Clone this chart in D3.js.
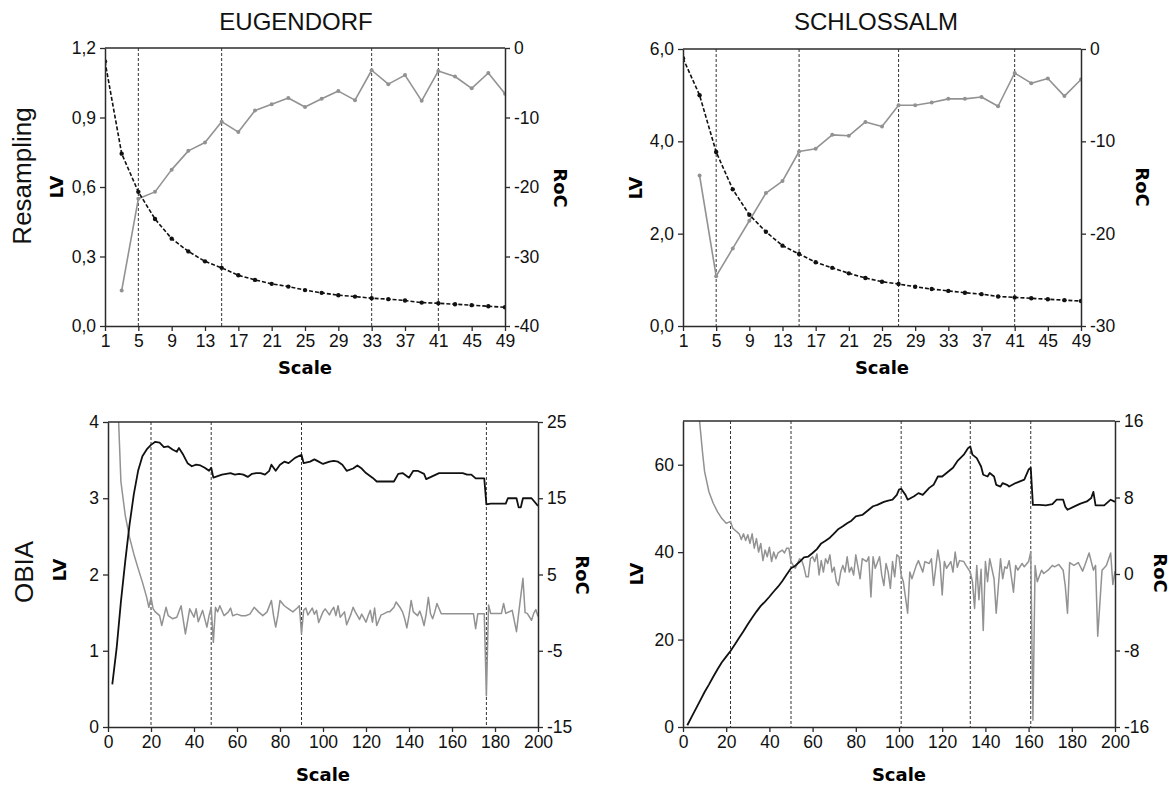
<!DOCTYPE html>
<html><head><meta charset="utf-8">
<script src="https://cdn.jsdelivr.net/npm/d3@7"></script>
<style>body{margin:0;background:#fff}svg{display:block}</style>
</head><body>
<svg id="c" width="1173" height="790"></svg>
<script>
// ---------- DATA ----------
const siteNames = ["EUGENDORF", "SCHLOSSALM"];
const rowNames = ["Resampling", "OBIA"];

const resampleScale = [1,3,5,7,9,11,13,15,17,19,21,23,25,27,29,31,33,35,37,39,41,43,45,47,49];
const resampleTicks = [1,5,9,13,17,21,25,29,33,37,41,45,49];

const eugResLV = [1.142,0.744,0.579,0.462,0.377,0.322,0.279,0.251,0.219,0.199,0.182,0.170,0.155,0.143,0.133,0.127,0.120,0.116,0.110,0.101,0.098,0.094,0.090,0.085,0.081];
const eugResRoC = [null,-34.9,-21.7,-20.7,-17.5,-14.8,-13.6,-10.6,-12.1,-9.0,-8.1,-7.2,-8.5,-7.3,-6.2,-7.5,-3.2,-5.2,-3.9,-7.6,-3.3,-4.1,-5.8,-3.6,-6.6];
const eugResBreaks = [5,15,33,41];
const eugResLVTicks = [0,0.3,0.6,0.9,1.2];
const eugResRoCTicks = [-40,-30,-20,-10,0];

const schResLV = [5.80,5.00,3.77,2.96,2.41,2.04,1.74,1.56,1.38,1.26,1.14,1.04,0.96,0.91,0.85,0.80,0.76,0.72,0.69,0.64,0.62,0.60,0.58,0.56,0.54];
const schResRoC = [null,-13.7,-24.6,-21.6,-18.6,-15.6,-14.3,-11.1,-10.8,-9.3,-9.4,-7.9,-8.4,-6.1,-6.1,-5.8,-5.4,-5.4,-5.2,-6.2,-2.6,-3.7,-3.2,-5.1,-3.3];
const schResBreaks = [5,15,27,41];
const schResLVTicks = [0,2,4,6];
const schResRoCTicks = [-30,-20,-10,0];

const obiaTicks = [0,20,40,60,80,100,120,140,160,180,200];

// [scale, LV]
const eugObiaLV = [[2,0.56],[4,1.03],[6,1.64],[8,2.17],[10,2.65],[12,3.05],[14,3.36],[16,3.55],[18,3.64],[20,3.70],
[22,3.74],[24,3.73],[26,3.67],[28,3.68],[30,3.64],[32,3.61],[33,3.66],[35,3.57],[37,3.46],[39,3.42],
[41,3.44],[43,3.43],[45,3.40],[47,3.36],[48,3.40],[49,3.27],[51,3.29],[53,3.31],[55,3.32],[57,3.33],
[59,3.31],[61,3.32],[63,3.31],[65,3.28],[67,3.32],[69,3.33],[71,3.33],[73,3.31],[75,3.36],[76,3.44],
[78,3.36],[80,3.44],[82,3.48],[84,3.46],[87,3.53],[90,3.57],[91,3.46],[94,3.48],[96,3.51],[98,3.48],
[100,3.45],[103,3.48],[105,3.49],[107,3.48],[109,3.44],[111,3.36],[114,3.39],[116,3.43],[118,3.39],[120,3.33],
[123,3.27],[125,3.22],[133,3.22],[135,3.32],[137,3.33],[140,3.27],[142,3.36],[144,3.36],[147,3.32],[148,3.25],
[151,3.29],[154,3.33],[165,3.33],[167,3.31],[169,3.31],[171,3.26],[175,3.26],[176,2.92],[178,2.93],[185,2.93],
[186,3.0],[190,3.0],[191,2.88],[192,2.88],[193,3.0],[197,3.0],[200,2.9]];
// [scale, RoC]
const eugObiaRoC = [[2,45],[4,32],[6,17.2],[8,12.8],[10,9.9],[12,7.7],[14,5.8],[16,4.0],[18,2.0],[19,0.7],[20,2.0],
[21,0.5],[22,0.1],[24,-0.4],[25,-1.7],[27,0.7],[28,-0.4],[30,-0.8],[32,-0.6],[34,0.9],[36,-2.8],[38,0.5],
[40,-0.6],[41,0.5],[42,-1.2],[44,0.3],[46,-1.9],[47,-0.4],[48,0.7],[49,-3.9],[50,0.7],[51,0.1],[52,0.9],
[54,-0.4],[56,0.1],[57,0.6],[58,-0.4],[60,-0.2],[62,-0.4],[64,-0.4],[66,-0.2],[68,0.7],[70,0.1],[72,-0.4],
[74,0.1],[76,1.6],[77,-0.4],[78,-1.9],[79,-0.4],[80,1.6],[82,0.9],[84,0.5],[86,0.1],[88,0.6],[89,0.9],
[90,-2.8],[91,0.3],[92,0.6],[93,-0.3],[95,0.6],[96,-0.2],[97,0.3],[98,-1.3],[100,0.1],[101,0.5],[103,-0.3],
[104,0.3],[105,0.7],[106,-0.4],[107,0.9],[108,-0.6],[110,0.1],[111,-1.6],[113,-0.2],[114,0.7],[115,0.1],
[117,-0.9],[118,-0.2],[120,-1.25],[121,-0.4],[122,0.3],[123,-1.25],[124,0.6],[125,-1.7],[127,-0.3],[128,-0.2],
[130,0.1],[131,0.1],[133,0.7],[134,1.4],[136,0.6],[137,0.1],[138,-0.8],[139,-2.0],[140,-0.4],[141,1.6],
[142,0.1],[144,-0.4],[145,0.2],[146,-0.6],[147,-1.7],[148,-0.15],[149,2.0],[150,-0.15],[151,-0.8],[152,0.1],
[153,1.2],[155,-0.15],[170,-0.15],[171,-2.1],[172,-0.15],[175,-0.15],[176,-10.9],[177,1.0],[178,-0.1],
[183,-0.1],[184,1.2],[185,-0.1],[188,0.3],[190,-2.5],[191,-0.1],[193,4.5],[194,0.0],[195,-0.1],[197,-1.0],
[198,-0.1],[199,0.4],[200,-0.5]];
const eugObiaBreaks = [20,48,90,176];
const eugObiaLVTicks = [0,1,2,3,4];
const eugObiaRoCTicks = [-15,-5,5,15,25];

const schObiaLV = [[2,0.4],[4,2.3],[6,4.2],[8,6.1],[10,8.0],[12,9.7],[14,11.5],[16,13.2],[18,14.8],[20,16.1],
[22,17.4],[24,18.9],[26,20.4],[28,21.9],[30,23.5],[32,25.0],[34,26.4],[36,27.7],[38,28.7],[40,29.8],
[42,31.0],[44,32.1],[46,33.4],[48,34.9],[50,36.3],[52,36.9],[54,37.8],[56,38.8],[58,39.0],[60,39.8],
[62,40.7],[64,42.0],[66,42.6],[68,43.3],[70,44.3],[72,45.3],[74,45.9],[76,46.6],[78,47.2],[80,48.2],
[83,48.5],[86,49.7],[88,50.5],[90,50.8],[93,51.5],[95,51.8],[97,52.0],[99,53.1],[100,54.3],[101,54.5],
[103,53.1],[104,52.0],[107,52.8],[109,53.5],[111,53.1],[114,54.7],[116,55.4],[118,57.3],[120,57.3],[123,58.5],
[125,59.3],[127,60.8],[130,62.3],[132,63.8],[133,64.2],[134,62.3],[136,61.5],[138,59.6],[139,57.7],[141,57.3],
[142,58.1],[144,57.3],[145,55.4],[147,55.0],[148,55.8],[150,55.4],[151,55.0],[154,55.8],[156,56.2],[158,56.6],
[160,58.9],[161,59.3],[162,50.8],[165,50.8],[168,50.7],[171,51.0],[173,52.0],[176,52.0],[177,50.4],[178,49.7],
[181,50.4],[184,51.1],[187,51.6],[189,52.4],[190,53.8],[191,50.7],[195,50.7],[198,52.0],[200,51.5]];
const schObiaRoC = [[2,40],[4,30],[6,20],[8,15.2],[9,12.8],[10,10.7],[12,8.6],[14,7.4],[16,6.5],[18,5.8],[20,5.3],
[22,5.5],[23,4.8],[24,4.6],[26,4.2],[27,3.6],[28,4.2],[29,3.5],[30,4.1],[31,3.2],[32,4.2],[33,2.7],[34,3.7],
[35,2.3],[36,3.2],[37,1.4],[38,2.5],[39,1.8],[40,2.8],[41,1.3],[42,2.3],[43,1.6],[44,2.2],[46,2.5],[47,2.2],
[48,2.7],[49,2.7],[50,1.3],[51,0.9],[52,0.6],[54,1.6],[55,1.4],[56,0.7],[57,-0.3],[58,-0.3],[59,1.6],[60,1.8],
[61,1.3],[62,2.1],[63,-0.1],[64,1.4],[65,0.2],[66,1.6],[67,1.1],[68,2.0],[69,0.2],[70,0.7],[71,-0.8],[72,-1.2],
[73,0.2],[74,0.9],[75,0.2],[76,1.8],[77,0.2],[78,0.7],[79,-0.1],[80,2.0],[82,-0.5],[83,1.6],[85,1.3],[86,1.8],
[87,-2.4],[88,1.8],[89,0.6],[91,1.8],[92,-0.1],[93,-1.2],[94,1.1],[95,0.2],[96,-1.5],[97,1.3],[98,-0.3],[99,2.0],
[100,1.8],[101,-0.1],[102,-0.8],[104,-4.1],[105,0.2],[106,-0.5],[108,0.9],[109,1.4],[111,0.2],[112,1.3],[114,1.1],
[115,1.6],[116,-1.2],[118,2.5],[119,1.1],[120,-2.2],[121,1.3],[122,0.6],[124,1.3],[125,0.2],[126,2.3],[127,0.7],
[128,1.4],[130,1.3],[131,0.9],[133,0.2],[134,-0.8],[135,-3.6],[136,0.9],[137,-2.7],[138,0.5],[139,-5.9],[140,1.3],
[141,-0.8],[142,1.6],[144,-0.5],[145,-4.1],[147,1.6],[148,-0.5],[149,0.75],[150,0.6],[151,1.4],[153,-1.9],[154,0.9],
[155,0.4],[157,1.1],[158,0.75],[160,1.3],[161,2.3],[162,-15.3],[163,0.9],[164,-0.8],[166,0.4],[167,0.05],[169,0.4],
[171,0.9],[172,0.75],[174,1.0],[176,0.4],[177,-1.3],[178,-4.1],[179,1.2],[181,0.9],[183,1.2],[185,0.3],[186,0.9],
[188,2.2],[190,0.4],[191,0.9],[192,-6.5],[194,0.4],[196,0.9],[198,2.2],[199,-1.1],[200,0.3]];
const schObiaBreaks = [22,50,101,133,161];
const schObiaLVTicks = [0,20,40,60];
const schObiaRoCTicks = [-16,-8,0,8,16];

// ---------- DRAWING ----------
const svg = d3.select("#c");
const tickFont = "'Liberation Sans', Arial, sans-serif";
const boldFont = "'DejaVu Sans', Verdana, sans-serif";
const AX = "#2b2b2b", GRAY = "#929292";
const comma1 = d => d.toFixed(1).replace(".", ",");

let clipN = 0;
function panel(o) {
  const g = svg.append("g");
  const x = d3.scaleLinear().domain(o.xDomain).range([o.left, o.right]);
  const yL = d3.scaleLinear().domain(o.lvDomain).range([o.bottom, o.top]);
  const yR = d3.scaleLinear().domain(o.rocDomain).range([o.bottom, o.top]);
  const cid = "clip" + (clipN++);
  svg.append("clipPath").attr("id", cid).append("rect")
    .attr("x", o.left).attr("y", o.top).attr("width", o.right - o.left).attr("height", o.bottom - o.top);

  g.selectAll("line.brk").data(o.breaks).join("line")
    .attr("x1", d => x(d)).attr("x2", d => x(d)).attr("y1", o.top).attr("y2", o.bottom)
    .attr("stroke", "#333").attr("stroke-width", 1).attr("stroke-dasharray", "3,2");

  const plot = g.append("g").attr("clip-path", `url(#${cid})`);
  const lvPts = o.lv, rocPts = o.roc;
  const lineL = d3.line().defined(d => d[1] != null).x(d => x(d[0])).y(d => yL(d[1]));
  const lineR = d3.line().defined(d => d[1] != null).x(d => x(d[0])).y(d => yR(d[1]));

  plot.append("path").datum(rocPts).attr("d", lineR).attr("fill", "none")
    .attr("stroke", GRAY).attr("stroke-width", o.markers ? 1.6 : 1.5).attr("stroke-linejoin", "round");
  plot.append("path").datum(lvPts).attr("d", lineL).attr("fill", "none")
    .attr("stroke", "#111").attr("stroke-width", o.markers ? 1.6 : 1.8)
    .attr("stroke-dasharray", o.markers ? "4,2" : null).attr("stroke-linejoin", "round");
  if (o.markers) {
    plot.selectAll("circle.r").data(rocPts.filter(d => d[1] != null)).join("circle")
      .attr("cx", d => x(d[0])).attr("cy", d => yR(d[1])).attr("r", 2).attr("fill", GRAY);
    plot.selectAll("circle.l").data(lvPts).join("circle")
      .attr("cx", d => x(d[0])).attr("cy", d => yL(d[1])).attr("r", 2.2).attr("fill", "#111");
  }

  g.append("line").attr("x1", o.left).attr("x2", o.right).attr("y1", o.top).attr("y2", o.top)
    .attr("stroke", AX).attr("stroke-width", 1.5);

  const axL = g.append("g").attr("transform", `translate(${o.left},0)`)
    .call(d3.axisLeft(yL).tickValues(o.lvTicks).tickFormat(o.lvFmt).tickSize(5).tickSizeOuter(0).tickPadding(4));
  const axR = g.append("g").attr("transform", `translate(${o.right},0)`)
    .call(d3.axisRight(yR).tickValues(o.rocTicks).tickFormat(d3.format("d")).tickSize(5).tickSizeOuter(0).tickPadding(4));
  const axB = g.append("g").attr("transform", `translate(0,${o.bottom})`)
    .call(d3.axisBottom(x).tickValues(o.xTicks).tickFormat(d3.format("d")).tickSize(5).tickSizeOuter(0).tickPadding(4));
  [axL, axR, axB].forEach(a => {
    a.selectAll("path.domain").attr("stroke", AX).attr("stroke-width", 1.5);
    a.selectAll(".tick line").attr("stroke", AX).attr("stroke-width", 1.3);
    a.selectAll("text").attr("font-family", tickFont).attr("font-size", 17.5).attr("fill", "#111");
  });
  axR.selectAll("text").text(d => String(d));

  g.append("text").attr("transform", `translate(${o.lvLab[0]},${o.lvLab[1]}) rotate(-90)`)
    .attr("text-anchor", "middle").attr("dominant-baseline", "central")
    .attr("font-family", boldFont).attr("font-weight", "bold").attr("font-size", 18).text("LV");
  g.append("text").attr("transform", `translate(${o.rocLab[0]},${o.rocLab[1]}) rotate(90)`)
    .attr("text-anchor", "middle").attr("dominant-baseline", "central")
    .attr("font-family", boldFont).attr("font-weight", "bold").attr("font-size", 18).text("RoC");
  g.append("text").attr("x", (o.left + o.right) / 2).attr("y", o.scaleLabY)
    .attr("text-anchor", "middle")
    .attr("font-family", boldFont).attr("font-weight", "bold").attr("font-size", 18).text("Scale");
}

const zip = (xs, ys) => xs.map((v, i) => [v, ys[i]]);

panel({left:105, right:505, top:48, bottom:326, xDomain:[1,49], xTicks:resampleTicks,
  lvDomain:[0,1.2], lvTicks:eugResLVTicks, lvFmt:comma1, rocDomain:[-40,0], rocTicks:eugResRoCTicks,
  lv:zip(resampleScale, eugResLV), roc:zip(resampleScale, eugResRoC), breaks:eugResBreaks, markers:true,
  lvLab:[56,187], rocLab:[560,188], scaleLabY:374});
panel({left:683, right:1081, top:49, bottom:326, xDomain:[1,49], xTicks:resampleTicks,
  lvDomain:[0,6], lvTicks:schResLVTicks, lvFmt:comma1, rocDomain:[-30,0], rocTicks:schResRoCTicks,
  lv:zip(resampleScale, schResLV), roc:zip(resampleScale, schResRoC), breaks:schResBreaks, markers:true,
  lvLab:[635,188], rocLab:[1142,187], scaleLabY:374});
panel({left:108, right:538, top:422, bottom:727, xDomain:[0,200], xTicks:obiaTicks,
  lvDomain:[0,4], lvTicks:eugObiaLVTicks, lvFmt:d3.format("d"), rocDomain:[-15,25], rocTicks:eugObiaRoCTicks,
  lv:eugObiaLV, roc:eugObiaRoC, breaks:eugObiaBreaks, markers:false,
  lvLab:[59,570], rocLab:[582,575], scaleLabY:781});
panel({left:683, right:1115, top:421, bottom:727, xDomain:[0,200], xTicks:obiaTicks,
  lvDomain:[0,70], lvTicks:schObiaLVTicks, lvFmt:d3.format("d"), rocDomain:[-16,16], rocTicks:schObiaRoCTicks,
  lv:schObiaLV, roc:schObiaRoC, breaks:schObiaBreaks, markers:false,
  lvLab:[636,574], rocLab:[1160,573], scaleLabY:781});

svg.selectAll("text.site").data(siteNames).join("text").attr("class", "site")
  .attr("x", (d, i) => [296, 876][i]).attr("y", 30).attr("text-anchor", "middle")
  .attr("font-family", tickFont).attr("font-size", 24).attr("fill", "#111").text(d => d);
svg.selectAll("text.row").data(rowNames).join("text").attr("class", "row")
  .attr("transform", (d, i) => `translate(${[22, 24][i]},${[176, 572][i]}) rotate(-90)`)
  .attr("text-anchor", "middle").attr("dominant-baseline", "central")
  .attr("font-family", tickFont).attr("font-size", 26).attr("fill", "#111").text(d => d);
</script>
</body></html>
